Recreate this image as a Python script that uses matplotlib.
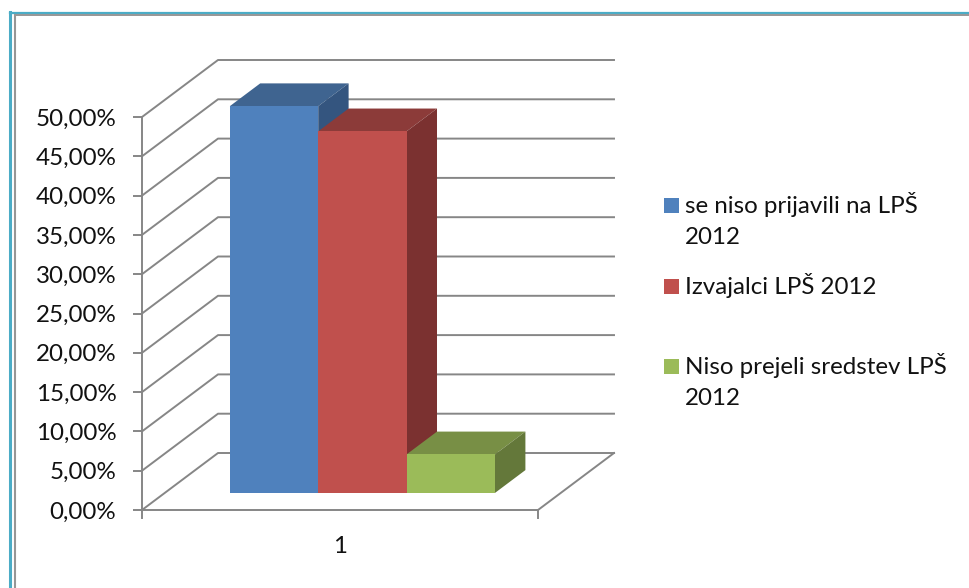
import matplotlib
matplotlib.use("Agg")
import matplotlib.pyplot as plt
from matplotlib.lines import Line2D
from matplotlib.patches import Polygon, Rectangle

# ===============================================================================
# data

category = "1"
seriesNames = ["se niso prijavili na LPŠ\n2012", "Izvajalci LPŠ 2012", "Niso prejeli sredstev LPŠ\n2012"]
seriesValues = [49.2, 46.0, 4.9]
yTicks = [0, 5, 10, 15, 20, 25, 30, 35, 40, 45, 50]

frontColors = ["#4F81BD", "#C0504D", "#9BBB59"]
topColors = ["#3F6490", "#8C3B39", "#788F45"]
sideColors = ["#34557F", "#7B3130", "#64783A"]

# ===============================================================================
# page and plot box, in pixels

W, H = 969, 588
left, right, bottom, top = 142, 538, 510, 117
GRID = "#868686"
LW = 1.4
FS = 17.4

fig = plt.figure(figsize=(W / 100, H / 100), dpi=100)
plt.rcParams["font.family"] = ["Lato", "DejaVu Sans"]
ax = fig.add_axes([left / W, 1 - bottom / H, (right - left) / W, (bottom - top) / H])
ax.set_xlim(0, 1)
ax.set_ylim(0, 50)
ax.patch.set_visible(False)
for s in ax.spines.values():
    s.set_visible(False)

# oblique projection: depth 0 is the front of the floor, depth 1 the back wall
depthX = 76 / (right - left)
depthY = 57 * 50 / (bottom - top)


def proj(x, y, d):
    return (x + d * depthX, y + d * depthY)


# ===============================================================================
# walls and floor

for v in yTicks:
    ax.add_line(Line2D(*zip(proj(0, v, 0), proj(0, v, 1), proj(1, v, 1)), color=GRID, lw=LW, clip_on=False, zorder=1))
ax.add_line(Line2D(*zip(proj(1, 0, 0), proj(1, 0, 1)), color=GRID, lw=LW, clip_on=False, zorder=1))
ax.add_line(Line2D([0, 1], [0, 0], color=GRID, lw=LW, clip_on=False, zorder=1))
ax.add_line(Line2D([0, 0], [0, 50], color=GRID, lw=LW, clip_on=False, zorder=1))

ax.set_yticks(yTicks)
ax.set_yticklabels([("%.2f%%" % v).replace(".", ",") for v in yTicks])
ax.set_xticks([0.5])
ax.set_xticklabels([category])
ax.tick_params(axis="y", length=6.5, width=LW, color=GRID, labelsize=FS, pad=12, labelcolor="#111111")
ax.tick_params(axis="x", length=0, labelsize=FS, pad=19, labelcolor="#111111")
for xEdge in (0, 1):
    ax.add_line(Line2D([xEdge, xEdge], [0, -1], color=GRID, lw=LW, clip_on=False, zorder=1))

# ===============================================================================
# bars

barW = 88.4 / (right - left)
x0 = 0.5 - barW * len(seriesValues) / 2 - 0.001
d0, d1 = 0.3, 0.7

for i, v in enumerate(seriesValues):
    a = x0 + i * barW
    b = a + barW
    z = 3 + i
    ax.add_patch(Polygon([proj(a, v, d0), proj(b, v, d0), proj(b, v, d1), proj(a, v, d1)], fc=topColors[i], ec="none", clip_on=False, zorder=z))
    ax.add_patch(Polygon([proj(b, 0, d0), proj(b, v, d0), proj(b, v, d1), proj(b, 0, d1)], fc=sideColors[i], ec="none", clip_on=False, zorder=z))
    ax.add_patch(Polygon([proj(a, 0, d0), proj(b, 0, d0), proj(b, v, d0), proj(a, v, d0)], fc=frontColors[i], ec="none", clip_on=False, zorder=z))

# ===============================================================================
# legend

legendY = [198, 279, 359]
for name, c, y in zip(seriesNames, frontColors, legendY):
    fig.add_artist(Rectangle((664 / W, 1 - (y + 15) / H), 15 / W, 15 / H, fc=c, ec="none", transform=fig.transFigure))
    fig.text(685 / W, 1 - (y - 6) / H, name, fontsize=FS, color="#111111", va="top", ha="left", linespacing=1.56)

# ===============================================================================
# page frame

fig.add_artist(Line2D([9.5 / W, 9.5 / W], [0, 1 - 12 / H], color="#4BACC6", lw=2.2))
fig.add_artist(Line2D([9.5 / W, 1], [1 - 13.3 / H, 1 - 13.3 / H], color="#4BACC6", lw=1.6))
fig.add_artist(Line2D([15 / W, 15 / W], [0, 1 - 14.5 / H], color="#969696", lw=1.5))
fig.add_artist(Line2D([15 / W, 1], [1 - 15 / H, 1 - 15 / H], color="#969696", lw=1.4))

plt.savefig("out.png", dpi=100)
plt.close()
